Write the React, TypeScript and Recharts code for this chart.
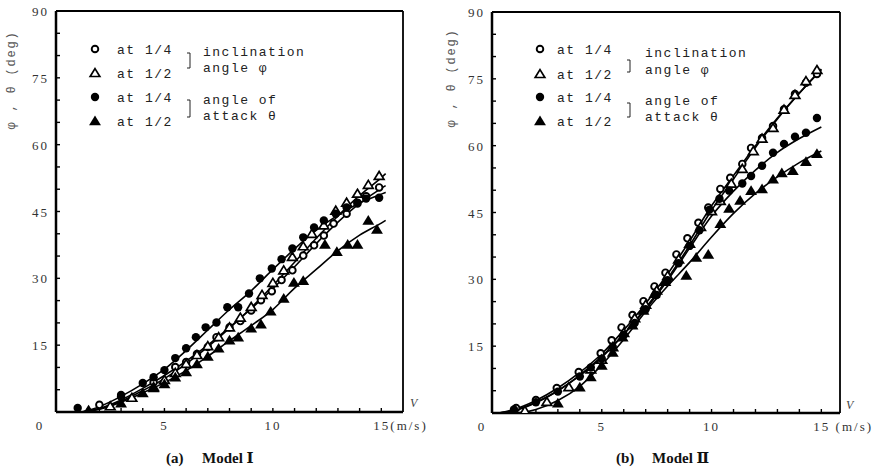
import { ComposedChart, Line, Scatter, XAxis, YAxis, ReferenceLine } from 'recharts'

type Pt = [number, number]

// (a) Model I, measured points as [V (m/s), angle (deg)]
const aPhiQuarter: Pt[] = [
  [2.0, 1.6], [3.0, 3.4], [4.5, 6.7], [5.5, 10.1], [6.0, 11.2], [6.5, 13.0], [7.0, 14.6], [7.4, 16.8],
  [8.0, 19.0], [8.5, 20.4], [9.0, 22.8], [9.45, 25.1], [9.95, 27.1], [10.4, 29.6], [10.9, 31.8],
  [11.4, 35.1], [11.9, 37.4], [12.35, 39.6], [12.8, 42.3], [13.4, 44.5], [13.9, 46.8], [14.3, 48.4], [14.9, 50.4]
]
const aPhiHalf: Pt[] = [
  [1.5, 0.3], [2.5, 1.3], [3.5, 3.2], [4.5, 5.6], [5.0, 7.2], [5.5, 8.8], [6.0, 10.8], [6.5, 12.8],
  [7.0, 14.8], [7.5, 16.8], [8.0, 19.0], [8.5, 21.2], [9.0, 23.6], [9.5, 26.3], [10.0, 29.0], [10.5, 31.8],
  [10.9, 34.8], [11.4, 37.2], [11.8, 40.0], [12.35, 41.9], [12.9, 45.2], [13.4, 47.0], [13.9, 49.0], [14.4, 51.0], [14.9, 53.0]
]
const aThetaQuarter: Pt[] = [
  [1.0, 0.9], [3.0, 3.8], [4.0, 6.5], [4.5, 7.8], [5.0, 9.4], [5.5, 12.1], [6.0, 14.3], [6.45, 16.8],
  [6.9, 19.0], [7.4, 20.1], [7.9, 23.5], [8.4, 23.5], [8.9, 26.6], [9.4, 30.0], [9.95, 32.2], [10.4, 34.3],
  [10.9, 36.7], [11.4, 39.2], [11.9, 41.4], [12.35, 43.0], [12.9, 44.5], [13.4, 45.9], [13.9, 47.0], [14.3, 47.9], [14.9, 48.1]
]
const aThetaHalf: Pt[] = [
  [1.5, 0.2], [3.0, 2.0], [4.0, 4.3], [4.5, 5.4], [5.0, 6.3], [5.5, 7.8], [6.0, 9.0], [6.5, 10.8],
  [7.0, 12.5], [7.5, 14.3], [8.0, 16.1], [8.4, 16.8], [9.0, 18.8], [9.45, 19.7], [9.9, 22.6], [10.5, 25.5],
  [10.97, 29.1], [11.4, 29.5], [12.4, 37.6], [12.95, 36.0], [13.45, 37.6], [13.9, 37.6], [14.4, 43.0], [14.8, 41.0]
]

const aFitV = [1.2, 2, 3, 4, 5, 6, 7, 8, 9, 10, 11, 12, 13, 14, 15, 15.2]
const aFitPhiQuarter = [0, 0.8, 2.7, 5.3, 8.2, 11.4, 15, 19, 23.2, 27.7, 32.6, 37.8, 42.6, 46.8, 50.2, 50.8]
const aFitPhiHalf = [0, 0.7, 2.4, 4.8, 7.5, 10.8, 14.6, 18.8, 23.4, 28.4, 33.6, 39, 44, 48.6, 52.6, 53.5]
const aFitThetaQuarter = [0, 1.2, 3.5, 6.3, 9.6, 13.8, 18.4, 23, 27.2, 32, 36.6, 40.8, 44.2, 46.9, 48.9, 49.3]
const aFitThetaHalf = [0, 0.6, 2.2, 4.3, 6.6, 9.3, 12.5, 16.0, 19.4, 23, 27.8, 32, 36.2, 39.7, 42.4, 43]

// (b) Model II, measured points
const bPhiQuarter: Pt[] = [
  [1.1, 1.1], [2.0, 2.9], [2.95, 5.6], [3.95, 9.2], [4.95, 13.4], [5.45, 16.3], [5.9, 19.2], [6.4, 22.0],
  [6.9, 25.1], [7.4, 28.4], [7.9, 31.5], [8.4, 35.6], [8.9, 39.2], [9.4, 42.7], [9.85, 46.1], [10.4, 50.3],
  [10.85, 52.8], [11.4, 55.9], [11.8, 59.5], [12.3, 61.7], [12.8, 64.4], [13.3, 68.2], [13.8, 71.6], [14.3, 74.1], [14.8, 76.1]
]
const bPhiHalf: Pt[] = [
  [1.5, 0.5], [2.5, 2.5], [3.5, 5.8], [4.5, 9.8], [5.0, 12.0], [5.5, 14.8], [6.0, 18.0], [6.5, 21.3],
  [7.0, 24.3], [7.5, 27.5], [8.0, 30.8], [8.5, 34.5], [9.0, 38.0], [9.5, 41.8], [10.0, 45.3], [10.4, 47.6],
  [10.9, 51.5], [11.4, 54.8], [11.9, 58.8], [12.3, 61.6], [12.8, 64.0], [13.3, 68.1], [13.8, 71.4], [14.3, 74.5], [14.8, 77.0]
]
const bThetaQuarter: Pt[] = [
  [1.0, 0.8], [2.0, 2.4], [3.0, 4.8], [4.0, 8.2], [4.5, 10.2], [5.0, 12.2], [5.5, 14.8], [6.0, 17.5],
  [6.5, 20.2], [7.0, 23.3], [7.5, 26.5], [8.0, 29.8], [8.5, 33.6], [9.0, 37.5], [9.45, 41.0], [9.9, 45.6],
  [10.36, 48.1], [10.8, 49.9], [11.4, 51.5], [11.8, 53.2], [12.3, 55.5], [12.8, 58.4], [13.3, 60.4], [13.8, 62.0], [14.3, 62.9], [14.8, 66.2]
]
const bThetaHalf: Pt[] = [
  [3.0, 2.2], [4.0, 5.8], [4.5, 8.1], [5.0, 10.7], [5.5, 13.6], [5.95, 17.0], [6.4, 19.7], [6.9, 23.0],
  [7.4, 26.8], [7.9, 29.5], [8.85, 30.9], [9.3, 34.9], [9.85, 35.6], [10.4, 42.5], [10.8, 45.9], [11.3, 47.7],
  [11.8, 49.9], [12.3, 50.3], [12.8, 52.5], [13.2, 53.9], [13.7, 54.4], [14.3, 56.4], [14.8, 58.2]
]

// (b) fitted curves
const bFitV = [0.3, 1, 2, 3, 4, 5, 6, 7, 8, 9, 10, 11, 12, 13, 14, 15]
const bFitPhiQuarter = [0, 0.8, 2.8, 5.6, 9.1, 13.3, 18.6, 24.6, 31.2, 38.6, 46.5, 53.3, 60, 66.2, 71.8, 77]
const bFitPhiHalf = [0, 0.5, 2.3, 5, 8.4, 12.5, 17.6, 23.6, 30.2, 37.6, 45.5, 52.5, 59.6, 66, 71.8, 77.2]
const bFitThetaQuarter = [0, 0.6, 2.4, 5, 8.5, 12.7, 17.7, 23.3, 29.8, 37, 44.2, 49.8, 54.5, 58.5, 61.6, 64.2]
const bFitThetaHalf = [0, 0, 0.8, 2.8, 6, 10.8, 16.5, 22.8, 28.5, 33.8, 39.5, 44.8, 49.3, 53, 56.2, 58.8]

const xTicks = [0, 1, 2, 3, 4, 5, 6, 7, 8, 9, 10, 11, 12, 13, 14, 15]
const yTicks = [5, 10, 15, 20, 25, 30, 35, 40, 45, 50, 55, 60, 65, 70, 75, 80, 85, 90]
const yTickLabels = [15, 30, 45, 60, 75, 90]
const legendRows = ['at 1/4', 'at 1/2', 'at 1/4', 'at 1/2']

const toPts = (pts: Pt[]) => pts.map(([v, deg]) => ({ v, deg }))
const toFit = (vs: number[], ds: number[]) => vs.map((v, i) => ({ v, deg: ds[i] }))

const tri = (x: number, y: number, s: number) =>
  `M${x},${y - s} L${x + s * 1.1},${y + s * 0.8} L${x - s * 1.1},${y + s * 0.8} Z`

const OpenCircle = (p: any) => <circle cx={p.cx} cy={p.cy} r={3.3} fill="#fff" stroke="#000" strokeWidth={1.9} />
const FilledCircle = (p: any) => <circle cx={p.cx} cy={p.cy} r={4.2} fill="#000" />
const OpenTriangle = (p: any) => <path d={tri(p.cx, p.cy, 4.4)} fill="#fff" stroke="#000" strokeWidth={1.7} />
const FilledTriangle = (p: any) => <path d={tri(p.cx, p.cy, 5.4)} fill="#000" />

const tickFont = { fontFamily: '"Liberation Serif", serif', fontSize: 13, fill: '#333', letterSpacing: 2 }
const monoFont = { fontFamily: '"Liberation Mono", monospace', fontSize: 13, fill: '#222', letterSpacing: 1.5 }

interface PanelProps {
  width: number
  margin: { top: number; right: number; bottom: number; left: number }
  yAxisWidth: number
  xMax: number
  zeroShift: number
  lastLabel: string
  pts: Pt[][]
  fitV: number[]
  fits: number[][]
}

function Panel({ width, margin, yAxisWidth, xMax, zeroShift, lastLabel, pts, fitV, fits }: PanelProps) {
  const XTick = ({ x, y, payload }: any) => {
    const v = payload.value
    let label = ''
    if (v === 0) label = '0'
    else if (v === 5 || v === 10) label = String(v)
    else if (v === 15) label = lastLabel
    return (
      <g>
        {v > 0 && <line x1={x} x2={x} y1={y} y2={y - 4} stroke="#000" strokeWidth={1.4} />}
        {label && (
          <text x={v === 0 ? x + zeroShift : v === 15 ? x - 8 : x} y={y + 18}
            textAnchor={v === 15 ? 'start' : 'middle'} {...tickFont}>{label}</text>
        )}
      </g>
    )
  }
  const YTick = ({ x, y, payload }: any) => {
    const d = payload.value
    return (
      <g>
        <line x1={x} x2={x + 4} y1={y} y2={y} stroke="#000" strokeWidth={1.4} />
        {yTickLabels.includes(d) && (
          <text x={x - 7} y={y + 5} textAnchor="end" {...tickFont}>{d}</text>
        )}
      </g>
    )
  }
  const shapes = [OpenCircle, OpenTriangle, FilledCircle, FilledTriangle]
  return (
    <ComposedChart width={width} height={473} margin={margin}>
      <XAxis dataKey="v" type="number" domain={[0, xMax]} ticks={xTicks} interval={0} allowDataOverflow
        height={30} tickSize={0} tickMargin={0} tick={<XTick />} axisLine={{ stroke: '#000', strokeWidth: 2.5 }} />
      <YAxis dataKey="deg" type="number" domain={[0, 90]} ticks={yTicks} interval={0} allowDataOverflow
        width={yAxisWidth} tickSize={0} tickMargin={0} tick={<YTick />} axisLine={{ stroke: '#000', strokeWidth: 2.5 }} />
      <ReferenceLine y={90} stroke="#000" strokeWidth={1.8} />
      <ReferenceLine x={xMax} stroke="#000" strokeWidth={1.8} />
      {fits.map((f, i) => (
        <Line key={`fit-${i}`} data={toFit(fitV, f)} dataKey="deg" type="monotone" stroke="#000"
          strokeWidth={1.6} dot={false} activeDot={false} isAnimationActive={false} />
      ))}
      {pts.map((p, i) => (
        <Scatter key={`pts-${i}`} data={toPts(p)} dataKey="deg" shape={shapes[i]} isAnimationActive={false} />
      ))}
    </ComposedChart>
  )
}

function LegendBlock({ mx, tx, rows, bx, lx, brackets, labels }: {
  mx: number; tx: number; rows: number[]; bx: number; lx: number; brackets: number[][]; labels: number[]
}) {
  const shapes = [OpenCircle, OpenTriangle, FilledCircle, FilledTriangle]
  const texts = ['inclination', 'angle \u03c6', 'angle of', 'attack \u03b8']
  return (
    <g>
      {rows.map((ry, i) => {
        const S = shapes[i]
        return (
          <g key={i}>
            <S cx={mx} cy={ry} />
            <text x={tx} y={ry + 4.5} {...monoFont}>{legendRows[i]}</text>
          </g>
        )
      })}
      {brackets.map(([y1, y2], i) => (
        <path key={i} d={`M${bx - 3},${y1} L${bx},${y1} L${bx},${y2} L${bx - 3},${y2}`} fill="none" stroke="#222" strokeWidth={1} />
      ))}
      {labels.map((ly, i) => (
        <text key={i} x={lx} y={ly} {...monoFont}>{texts[i]}</text>
      ))}
    </g>
  )
}

export default function App() {
  const axisTitle = { fontFamily: '"Liberation Mono", monospace', fontSize: 12, fill: '#555', letterSpacing: 1.8 }
  const caption = { fontFamily: '"Liberation Serif", "DejaVu Serif", serif', fontSize: 15, fontWeight: 700, fill: '#111' }
  return (
    <div style={{ position: 'absolute', left: 0, top: 0, width: 884, height: 473, background: '#fff' }}>
      <div style={{ position: 'absolute', left: 0, top: 0 }}>
        <Panel width={440} margin={{ top: 11, right: 37, bottom: 31, left: 0 }} yAxisWidth={56} xMax={16}
          zeroShift={-16} lastLabel="15(m/s)"
          pts={[aPhiQuarter, aPhiHalf, aThetaQuarter, aThetaHalf]} fitV={aFitV}
          fits={[aFitPhiQuarter, aFitPhiHalf, aFitThetaQuarter, aFitThetaHalf]} />
      </div>
      <div style={{ position: 'absolute', left: 440, top: 0 }}>
        <Panel width={444} margin={{ top: 12, right: 44, bottom: 30, left: 0 }} yAxisWidth={52} xMax={15.85}
          zeroShift={-10} lastLabel="15 (m/s)"
          pts={[bPhiQuarter, bPhiHalf, bThetaQuarter, bThetaHalf]} fitV={bFitV}
          fits={[bFitPhiQuarter, bFitPhiHalf, bFitThetaQuarter, bFitThetaHalf]} />
      </div>
      <svg width={884} height={473} style={{ position: 'absolute', left: 0, top: 0, pointerEvents: 'none' }}>
        <LegendBlock mx={95} tx={117} rows={[49, 73, 97, 121]} bx={190} lx={203}
          brackets={[[53, 68], [100, 117]]} labels={[56, 72, 104, 120]} />
        <LegendBlock mx={540} tx={557} rows={[49, 74, 97, 121]} bx={630} lx={645}
          brackets={[[60, 72], [103, 117]]} labels={[57, 74, 105, 121]} />
        <text x={15} y={80} transform="rotate(-90 15 80)" textAnchor="middle" {...axisTitle}>{'\u03c6 , \u03b8 (deg)'}</text>
        <text x={455} y={78} transform="rotate(-90 455 78)" textAnchor="middle" {...axisTitle}>{'\u03c6 , \u03b8 (deg)'}</text>
        <text x={410} y={407} fontFamily='"Liberation Serif", serif' fontStyle="italic" fontSize={12} fill="#444">V</text>
        <text x={846} y={409} fontFamily='"Liberation Serif", serif' fontStyle="italic" fontSize={12} fill="#444">V</text>
        <text x={166} y={463} {...caption}>(a)</text>
        <text x={202} y={463} {...caption}>Model {'\u2160'}</text>
        <text x={616} y={463} {...caption}>(b)</text>
        <text x={652} y={463} {...caption}>Model {'\u2161'}</text>
      </svg>
    </div>
  )
}
